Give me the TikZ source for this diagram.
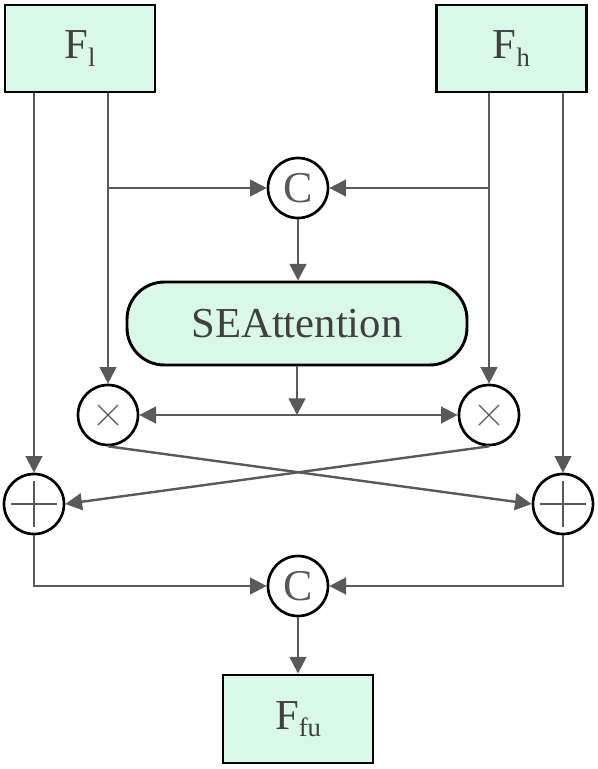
\documentclass[tikz,border=0pt]{standalone}
\usepackage{fontspec}
\setmainfont{Liberation Serif}
\usetikzlibrary{arrows.meta}
\definecolor{mint}{RGB}{218,248,232}
\definecolor{ln}{RGB}{89,89,89}
\definecolor{tx}{RGB}{64,64,64}
\newcommand{\sub}[1]{\raisebox{-5.5pt}{\fontsize{20}{20}\selectfont #1}}
\begin{document}
\begin{tikzpicture}[x=0.75pt,y=-0.75pt,
  box/.style={draw=black,line width=2.2pt,fill=mint,inner sep=0pt,text=tx,font=\fontsize{32}{32}\selectfont},
  opc/.style={circle,draw=black,line width=2pt,fill=white,inner sep=0pt,minimum size=45pt,text=ln,font=\fontsize{33}{33}\selectfont},
  tip/.style={Triangle[length=12.5pt,width=12.5pt]},
  arr/.style={draw=ln,line width=1.8pt,-{Triangle[length=12.5pt,width=12.5pt]}},
  ln/.style={draw=ln,line width=1.8pt}]
\useasboundingbox (0,0) rectangle (598,769);
\node[box,minimum width=112.5pt,minimum height=65.25pt] (Fl) at (80,48.5) {F\sub{l}};
\node[box,minimum width=113pt,minimum height=65.25pt] (Fh) at (511.5,48.5) {F\sub{h}};
\node[box,minimum width=112.5pt,minimum height=66pt] (Ffu) at (298,719) {F\sub{fu}};
\node[box,rounded corners=28pt,minimum width=255pt,minimum height=62.25pt] (se) at (297,323.5) {SEAttention};
\node[opc] (c1) at (298,188) {C};
\node[opc] (c2) at (298,586) {C};
\node[opc] (lx) at (108,415) {};
\node[opc] (rx) at (489,415) {};
\node[opc] (lp) at (34,504) {};
\node[opc] (rp) at (563,504) {};
% symbols
\draw[ln,line width=1pt] ([shift={(-10,-10)}]lx.center) -- ([shift={(10,10)}]lx.center)
  ([shift={(-10,10)}]lx.center) -- ([shift={(10,-10)}]lx.center);
\draw[ln,line width=1pt] ([shift={(-10,-10)}]rx.center) -- ([shift={(10,10)}]rx.center)
  ([shift={(-10,10)}]rx.center) -- ([shift={(10,-10)}]rx.center);
\draw[ln,line width=1.2pt] ([xshift=-17]lp.center) -- ([xshift=17]lp.center)
  ([yshift=-17]lp.center) -- ([yshift=17]lp.center);
\draw[ln,line width=1.2pt] ([xshift=-17]rp.center) -- ([xshift=17]rp.center)
  ([yshift=-17]rp.center) -- ([yshift=17]rp.center);
% connectors
\draw[arr] (Fl.south -| lp) -- (lp.north);
\draw[arr] (Fh.south -| rp) -- (rp.north);
\draw[arr] (Fl.south -| lx) -- (lx.north);
\draw[arr] (Fh.south -| rx) -- (rx.north);
\draw[arr] (c1.west -| lx) -- (c1.west);
\draw[arr] (c1.east -| rx) -- (c1.east);
\draw[arr] (c1.south) -- (se.north -| c1);
\coordinate (mid) at (se.south |- lx.center);
\draw[arr] (se.south) -- (mid);
\draw[draw=ln,line width=1.8pt,{Triangle[length=12.5pt,width=12.5pt]}-{Triangle[length=12.5pt,width=12.5pt]}] (lx.east) -- (rx.west);
\draw[arr] (lx.south) -- (rp.west);
\draw[arr] (rx.south) -- (lp.east);
\draw[arr] (lp.south) |- (c2.west);
\draw[arr] (rp.south) |- (c2.east);
\draw[arr] (c2.south) -- (Ffu.north);
\end{tikzpicture}
\end{document}
